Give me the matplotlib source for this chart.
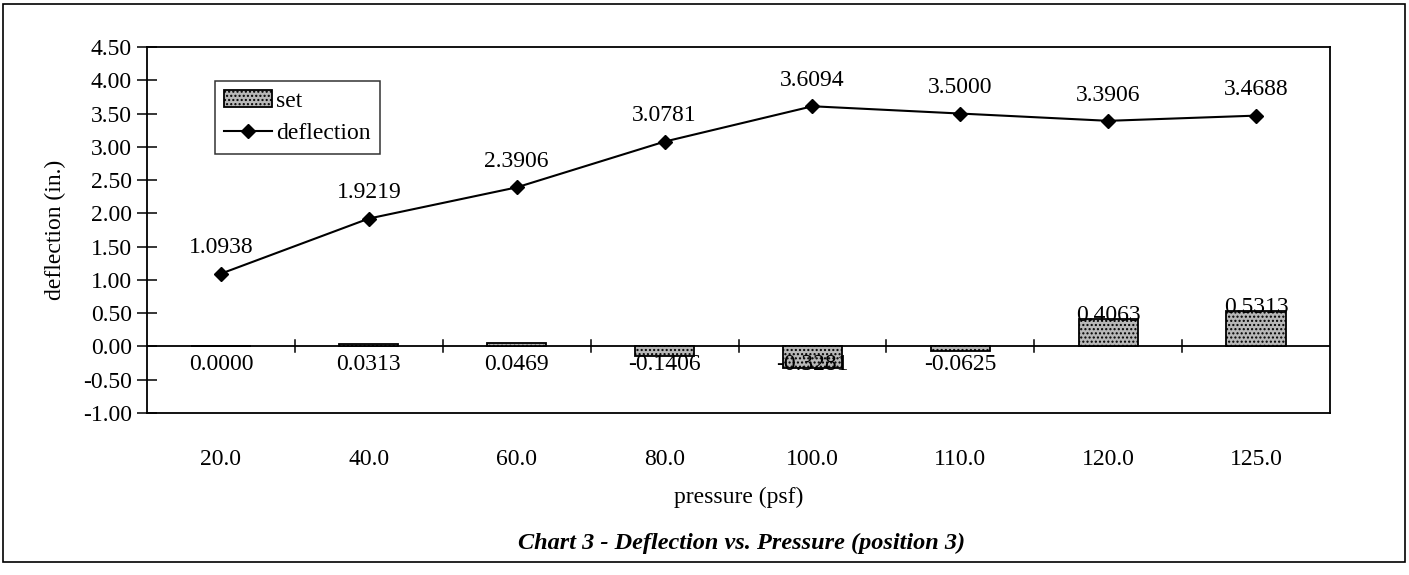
import numpy as np
import matplotlib.pyplot as plt
from matplotlib.patches import Rectangle

plt.rcParams['font.family'] = ['Liberation Serif', 'DejaVu Serif']

pressure = ["20.0", "40.0", "60.0", "80.0", "100.0", "110.0", "120.0", "125.0"]
set_vals = [0.0000, 0.0313, 0.0469, -0.1406, -0.3281, -0.0625, 0.4063, 0.5313]
deflection = [1.0938, 1.9219, 2.3906, 3.0781, 3.6094, 3.5000, 3.3906, 3.4688]

W, H = 1409, 575
fig = plt.figure(figsize=(W / 100, H / 100), dpi=100)
ax = fig.add_axes([147 / W, 1 - 413 / H, (1330 - 147) / W, (413 - 47) / H])

fs = 17
x = np.arange(len(pressure))
ax.bar(x, set_vals, width=0.4, color='#b8b8b8', edgecolor='black', linewidth=1.3,
       hatch='....', label='set', zorder=2)
ax.plot(x, deflection, color='black', marker='D', markersize=7, linewidth=1.5,
        label='deflection', zorder=3)

# data labels
for xi, v in zip(x, deflection):
    ax.annotate(f"{v:.4f}", (xi, v), xytext=(0, 11), textcoords='offset points',
                ha='center', va='bottom', fontsize=fs)
for xi, v in zip(x, set_vals):
    if v > 0.2:
        ax.text(xi, v + 0.06, f"{v:.4f}", ha='center', va='center', fontsize=fs, zorder=4)
    else:
        ax.text(xi, -0.27, f"{v:.4f}", ha='center', va='center', fontsize=fs, zorder=4)

# category axis crossing at zero, with tick marks between categories
ax.axhline(0, color='black', linewidth=1.3, zorder=1)
for b in np.arange(0.5, len(pressure) - 0.5):
    ax.plot([b, b], [-0.09, 0.09], color='black', linewidth=1.1)

ax.set_xlim(-0.5, len(pressure) - 0.5)
ax.set_ylim(-1.0, 4.5)
yt = np.arange(-1.0, 4.51, 0.5)
ax.set_yticks(yt)
ax.set_yticklabels([f"{t:.2f}" for t in yt], fontsize=fs)
ax.set_xticks(x)
ax.set_xticklabels(pressure, fontsize=fs)
ax.tick_params(axis='x', length=0, pad=26)
ax.tick_params(axis='y', direction='inout', length=14, width=1.1, pad=4)
for s in ax.spines.values():
    s.set_linewidth(1.3)

ax.set_ylabel("deflection (in.)", fontsize=fs, va='center')
ax.yaxis.set_label_coords((55 - 147) / 1183, 0.5)
ax.set_xlabel("pressure (psf)", fontsize=fs, va='center')
ax.xaxis.set_label_coords(0.5, (413 - 497) / (413 - 47))

handles, labels = ax.get_legend_handles_labels()
order = [labels.index('set'), labels.index('deflection')]
leg = ax.legend([handles[i] for i in order], [labels[i] for i in order],
                loc='upper left', bbox_to_anchor=((215 - 147) / 1183, (413 - 81) / (413 - 47)),
                fontsize=fs, frameon=True, fancybox=False, edgecolor='black',
                handlelength=2.0, handletextpad=0.2, borderpad=0.4,
                labelspacing=0.45, borderaxespad=0)
leg.get_frame().set_linewidth(1.1)

fig.text(742 / W, 1 - 543 / H, "Chart 3 - Deflection vs. Pressure (position 3)",
         ha='center', va='center', fontsize=17.5, fontweight='bold', fontstyle='italic')

fig.patches.append(Rectangle((3 / W, 1 - 562 / H), 1 - 7 / W, (562 - 4) / H,
                             transform=fig.transFigure, fill=False,
                             edgecolor='black', linewidth=1.2))

fig.savefig("out.png", dpi=100)
